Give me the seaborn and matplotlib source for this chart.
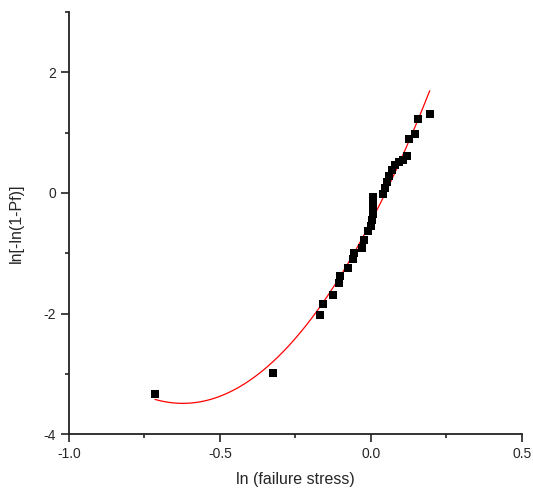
import numpy as np
import pandas as pd
import matplotlib
matplotlib.use("Agg")
import matplotlib.pyplot as plt
import seaborn as sns
from matplotlib.ticker import MultipleLocator

# Weibull plot data
ln_stress = [-0.715, -0.325, -0.169, -0.159, -0.126, -0.106, -0.103, -0.076,
             -0.060, -0.056, -0.030, -0.023, -0.010, 0.000, 0.003, 0.007,
             0.007, 0.007, 0.007, 0.040, 0.046, 0.053, 0.060, 0.070,
             0.079, 0.093, 0.106, 0.119, 0.126, 0.146, 0.156, 0.195]
ln_ln_pf = [-3.34, -2.98, -2.03, -1.85, -1.69, -1.50, -1.37, -1.24,
            -1.09, -0.99, -0.91, -0.78, -0.64, -0.55, -0.45, -0.35,
            -0.25, -0.15, -0.07, -0.02, 0.08, 0.18, 0.28, 0.38,
            0.46, 0.51, 0.55, 0.61, 0.89, 0.98, 1.22, 1.31]

df = pd.DataFrame({"x": ln_stress, "y": ln_ln_pf})

# Quadratic fit curve
coef = np.polyfit(df["x"], df["y"], 2)
xfit = np.linspace(min(ln_stress), 0.195, 200)
fit = pd.DataFrame({"x": xfit, "y": np.polyval(coef, xfit)})

sns.set_style("ticks")
plt.rcParams['font.family'] = ['Liberation Sans', 'DejaVu Sans']

fig = plt.figure(figsize=(5.33, 4.99), dpi=100)
ax = fig.add_axes([0.1295, 0.130, 0.8495, 0.846])

sns.lineplot(data=fit, x="x", y="y", color="red", linewidth=0.9, ax=ax)
sns.scatterplot(data=df, x="x", y="y", marker="s", s=36, color="black",
                edgecolor="black", linewidth=0, ax=ax, zorder=3)

ax.set_xlim(-1.0, 0.5)
ax.set_ylim(-4, 3)
ax.xaxis.set_major_locator(MultipleLocator(0.5))
ax.xaxis.set_minor_locator(MultipleLocator(0.25))
ax.yaxis.set_major_locator(MultipleLocator(2))
ax.yaxis.set_minor_locator(MultipleLocator(1))
ax.set_xticks([-1.0, -0.5, 0.0, 0.5])
ax.set_xticklabels(["-1.0", "-0.5", "0.0", "0.5"])
ax.set_yticks([-4, -2, 0, 2])
ax.set_yticklabels(["-4", "-2", "0", "2"])
ax.tick_params(which="major", direction="out", length=6, width=1.2,
               labelsize=10, color="#222222")
ax.tick_params(which="minor", direction="out", length=3, width=1.2,
               color="#222222")

for side in ["top", "right"]:
    ax.spines[side].set_visible(False)
for side in ["left", "bottom"]:
    ax.spines[side].set_linewidth(1.3)
    ax.spines[side].set_color("#222222")

ax.set_xlabel("ln (failure stress)", fontsize=11.5, labelpad=8)
ax.set_ylabel("ln[-ln(1-Pf)]", fontsize=11.5, labelpad=14)

fig.savefig("out.png", dpi=100)
